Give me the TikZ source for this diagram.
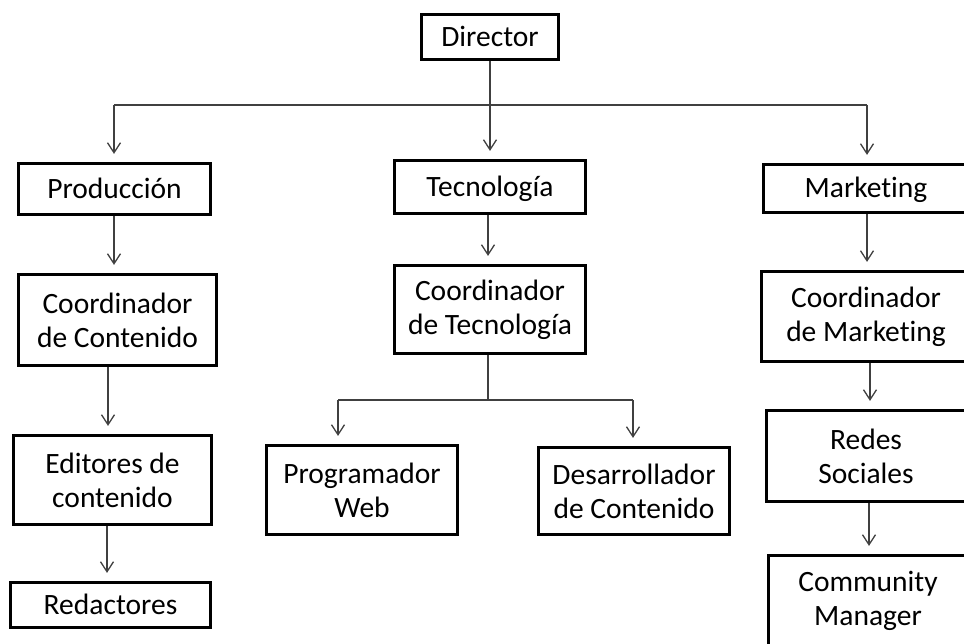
\documentclass[tikz,border=0pt]{standalone}
\usepackage{fontspec}
\setmainfont{Carlito}[Ligatures=NoCommon]
\usetikzlibrary{arrows.meta,calc}

\tikzset{
  caja/.style={draw=black, line width=3.2pt, align=center, inner sep=0pt,
    font=\fontsize{29.5}{34}\selectfont},
  unalinea/.style={text height=21pt, text depth=2pt},
  linea/.style={draw=black!75, line width=1.3pt},
  flecha/.style={linea, -{Straight Barb[length=10pt,width=13pt,line width=1.3pt]},
    shorten >=8pt}
}

\begin{document}
\begin{tikzpicture}[x=1pt,y=-1pt]
\useasboundingbox (0,0) rectangle (964,644);
\clip (0,0) rectangle (964,644);

% Director
\node[caja, unalinea, minimum width=137pt, minimum height=45pt] (dir) at (490,37) {Director};

% Areas
\node[caja, unalinea, minimum width=192pt, minimum height=51pt] (prod) at (114.5,189) {Producción};
\node[caja, unalinea, minimum width=191pt, minimum height=53pt] (tec) at (490,187) {Tecnología};
\node[caja, unalinea, minimum width=205pt, minimum height=48pt] (mkt) at (866,188.5) {Marketing};

% Produccion
\node[caja, minimum width=198pt, minimum height=91pt] (coordc) at (117.5,320) {Coordinador\\de Contenido};
\node[caja, minimum width=198pt, minimum height=89pt] (edit) at (112.5,480) {Editores de\\contenido};
\node[caja, unalinea, minimum width=200pt, minimum height=45pt] (red) at (110.5,605) {Redactores};

% Tecnologia
\node[caja, minimum width=191pt, minimum height=88pt] (coordt) at (490,309.5) {Coordinador\\de Tecnología};
\node[caja, minimum width=191pt, minimum height=89pt] (prog) at (362,490) {Programador\\Web};
\node[caja, minimum width=191pt, minimum height=87pt] (desa) at (634,491) {Desarrollador\\de Contenido};

% Marketing
\node[caja, minimum width=209pt, minimum height=90pt] (coordm) at (866,316.5) {Coordinador\\de Marketing};
\node[caja, minimum width=199pt, minimum height=91pt] (redes) at (866,456) {Redes\\Sociales};
\node[caja, minimum width=199pt, minimum height=91pt] (comm) at (868,601) {Community\\Manager};

% ramas
\coordinate (tl) at (114,105);
\coordinate (tr) at (867,105);
\coordinate (bm) at (488,400);
\coordinate (bl) at (338,400);
\coordinate (br) at (633,400);

\draw[flecha] (dir) -- (tec);
\draw[linea] (tl) -- (tr);
\draw[flecha] (tl) -- (tl |- prod.north);
\draw[flecha] (tr) -- (tr |- mkt.north);

\draw[flecha] (prod.south -| tl) -- (tl |- coordc.north);
\draw[flecha] ([xshift=-9.5pt]coordc.south) -- ([xshift=-9.5pt]coordc.south |- edit.north);
\draw[flecha] ([xshift=-5.5pt]edit.south) -- ([xshift=-5.5pt]edit.south |- red.north);

\draw[flecha] (tec.south -| bm) -- (bm |- coordt.north);
\draw[linea] (coordt.south -| bm) -- (bm);
\draw[linea] (bl) -- (br);
\draw[flecha] (bl) -- (bl |- prog.north);
\draw[flecha] (br) -- (br |- desa.north);

\draw[flecha] (mkt.south -| tr) -- (tr |- coordm.north);
\draw[flecha] ([xshift=4pt]coordm.south) -- ([xshift=4pt]coordm.south |- redes.north);
\draw[flecha] ([xshift=3pt]redes.south) -- ([xshift=3pt]redes.south |- comm.north);
\end{tikzpicture}
\end{document}
